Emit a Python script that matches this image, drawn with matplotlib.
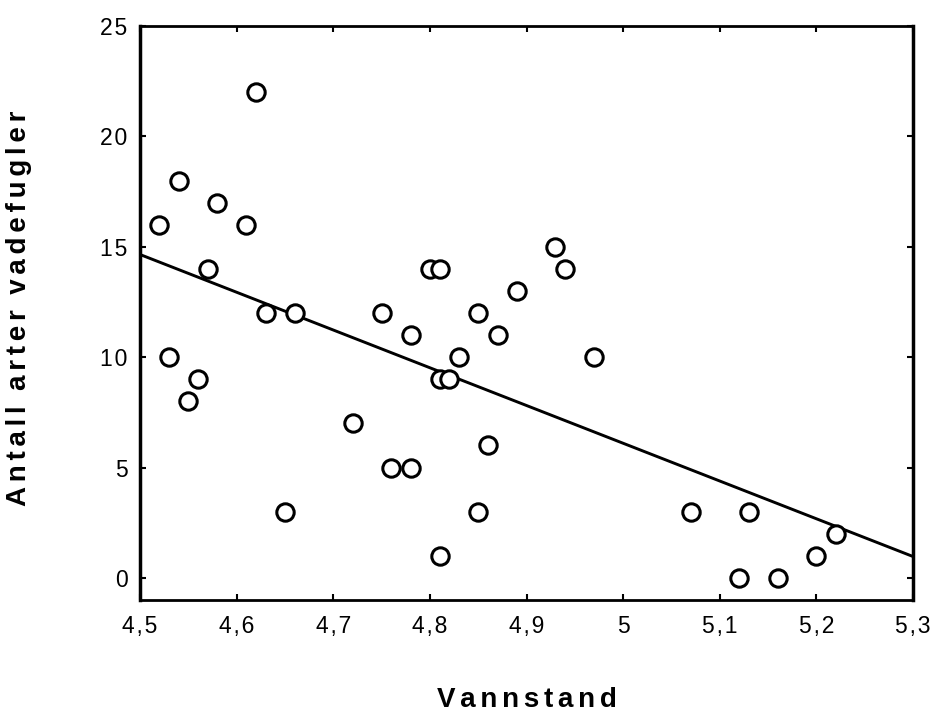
import matplotlib
matplotlib.use("Agg")
import matplotlib.pyplot as plt
import numpy as np

# Water level (Vannstand) and number of wader species (Antall arter vadefugler)
vannstand = [4.52, 4.54, 4.58, 4.62, 4.61, 4.57, 4.53, 4.56, 4.55, 4.63,
             4.66, 4.65, 4.72, 4.75, 4.76, 4.78, 4.78, 4.80, 4.81, 4.81,
             4.82, 4.83, 4.81, 4.85, 4.85, 4.86, 4.87, 4.89, 4.93, 4.94,
             4.97, 5.07, 5.13, 5.12, 5.16, 5.20, 5.22]
arter = [16, 18, 17, 22, 16, 14, 10, 9, 8, 12,
         12, 3, 7, 12, 5, 5, 11, 14, 14, 9,
         9, 10, 1, 12, 3, 6, 11, 13, 15, 14,
         10, 3, 3, 0, 0, 1, 2]

# Fitted regression line
intercept = 91.6
slope = -17.1

x_ticks = [4.5, 4.6, 4.7, 4.8, 4.9, 5.0, 5.1, 5.2, 5.3]
x_labels = ["4,5", "4,6", "4,7", "4,8", "4,9", "5", "5,1", "5,2", "5,3"]
y_ticks = [0, 5, 10, 15, 20, 25]
y_labels = ["0", "5", "10", "15", "20", "25"]


def spaced(s, gap="\u200a"):
    """Widen the tracking of a label by putting hair spaces between letters."""
    return gap.join(s)


plt.rcParams['font.family'] = ['Liberation Sans', 'DejaVu Sans']

fig = plt.figure(figsize=(9.4, 7.22), dpi=100)
ax = fig.add_axes([140 / 940, 1 - 600 / 722, (913 - 140) / 940, (600 - 26) / 722])

ax.plot(vannstand, arter, linestyle='none', marker='o', markersize=12.5,
        markerfacecolor='white', markeredgecolor='black', markeredgewidth=2.2,
        zorder=3)

xs = np.array([4.5, 5.3])
ax.plot(xs, intercept + slope * xs, color='black', linewidth=2.1, zorder=2)

ax.set_xlim(4.5, 5.3)
ax.set_ylim(-1, 25)
ax.set_xticks(x_ticks)
ax.set_xticklabels([spaced(t) for t in x_labels])
ax.set_yticks(y_ticks)
ax.set_yticklabels([spaced(t) for t in y_labels])

ax.tick_params(direction='in', length=4, width=1.5, labelsize=16.5,
               top=True, right=True)
ax.tick_params(axis='x', pad=11)
ax.tick_params(axis='y', pad=9)
for side, lw in [('left', 2.5), ('right', 2.5), ('top', 2.0), ('bottom', 2.0)]:
    ax.spines[side].set_linewidth(lw)

fig.text(527 / 940, 1 - 700 / 722, spaced("Vannstand", "\u200a\u200a"),
         ha='center', va='center', fontsize=20, fontweight='bold')
fig.text(19 / 940, 1 - 308 / 722,
         "  ".join(spaced(w, "\u200a\u200a") for w in ["Antall", "arter", "vadefugler"]),
         ha='center', va='center', rotation=90, fontsize=20, fontweight='bold')

fig.savefig("out.png", dpi=100)
